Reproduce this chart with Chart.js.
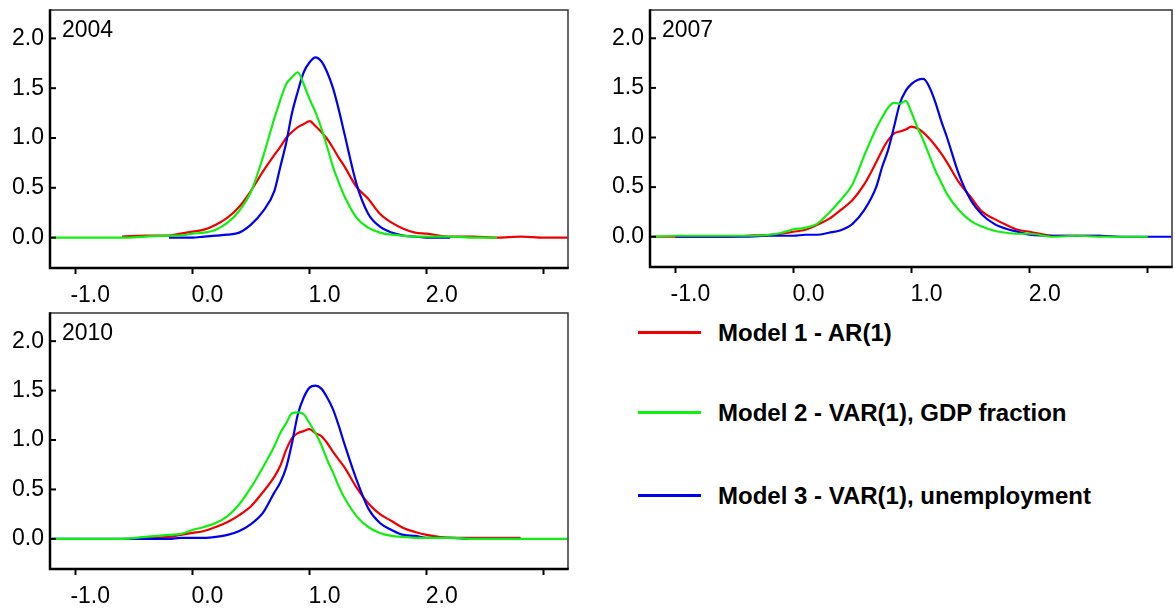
<!DOCTYPE html>
<html>
<head>
<meta charset="utf-8">
<script src="https://cdn.jsdelivr.net/npm/chart.js@4.4.1/dist/chart.umd.min.js"></script>
<style>
  body { margin: 0; background: #fff; width: 1175px; height: 615px; overflow: hidden; position: relative; }
  .panel { position: absolute; }
  .leg-line { position: absolute; left: 638px; width: 63px; height: 3px; }
  .leg-text { position: absolute; left: 718px; font: bold 24px 'Liberation Sans', Arial, sans-serif; color: #000; line-height: 28px; white-space: nowrap; }
</style>
</head>
<body>
<div class="panel" style="left:0;top:0;width:575px;height:302px"><canvas id="c2004"></canvas></div>
<div class="panel" style="left:600px;top:0;width:575px;height:302px"><canvas id="c2007"></canvas></div>
<div class="panel" style="left:0;top:303px;width:575px;height:312px"><canvas id="c2010"></canvas></div>

<div class="leg-line" style="top:331px;background:#f00000"></div>
<div class="leg-text" style="top:319px">Model 1 - AR(1)</div>
<div class="leg-line" style="top:411px;background:#10f010"></div>
<div class="leg-text" style="top:399px">Model 2 - VAR(1), GDP fraction</div>
<div class="leg-line" style="top:494px;background:#0000f0"></div>
<div class="leg-text" style="top:482px">Model 3 - VAR(1), unemployment</div>

<script>
const xGrid = [-1.2, -1.0, -0.8, -0.6, -0.4, -0.2, -0.1, 0.0, 0.1, 0.2, 0.3, 0.4, 0.5, 0.6, 0.7, 0.75,
  0.8, 0.85, 0.9, 0.95, 1.0, 1.05, 1.1, 1.15, 1.2, 1.25, 1.3, 1.4, 1.5, 1.6, 1.7, 1.8, 1.9, 2.0,
  2.2, 2.4, 2.6, 2.8, 3.0, 3.2];

const xTicks = [-1, 0, 1, 2, 3];
const yTicks = [0, 0.5, 1, 1.5, 2];

// 2004
const red2004 = [null, null, null, 0.01, 0.02, 0.02, 0.04, 0.06, 0.08, 0.13, 0.2, 0.31, 0.47, 0.66, 0.83, 0.91,
  1.0, 1.06, 1.11, 1.14, 1.17, 1.12, 1.06, 0.99, 0.9, 0.8, 0.71, 0.51, 0.39, 0.24, 0.15, 0.09, 0.05, 0.04,
  0.01, 0.01, 0.0, 0.01, 0.0, 0.0];
const green2004 = [0, 0, 0, 0, 0.01, 0.02, 0.02, 0.04, 0.05, 0.08, 0.15, 0.27, 0.46, 0.8, 1.2, 1.38,
  1.54, 1.61, 1.66, 1.54, 1.39, 1.26, 1.1, 0.91, 0.71, 0.55, 0.41, 0.2, 0.1, 0.05, 0.03, 0.02, 0.01, 0.01,
  0.01, 0.0, 0.0, null, null, null];
const blue2004 = [null, null, null, null, null, 0.0, 0.0, 0.0, 0.01, 0.02, 0.03, 0.05, 0.13, 0.26, 0.47, 0.71,
  0.95, 1.25, 1.47, 1.66, 1.76, 1.81, 1.77, 1.66, 1.5, 1.28, 1.03, 0.54, 0.24, 0.11, 0.05, 0.02, 0.01, 0.0,
  0.0, null, null, null, null, null];

// 2007
const red2007 = [0, 0, 0, 0, 0.01, 0.02, 0.03, 0.05, 0.07, 0.12, 0.18, 0.27, 0.37, 0.53, 0.75, 0.87,
  0.97, 1.04, 1.06, 1.08, 1.11, 1.09, 1.05, 0.99, 0.92, 0.84, 0.75, 0.55, 0.40, 0.25, 0.18, 0.12, 0.07, 0.05,
  0.01, 0.01, 0.01, null, null, null];
const green2007 = [0.0, 0.01, 0.01, 0.01, 0.01, 0.02, 0.04, 0.075, 0.09, 0.13, 0.24, 0.37, 0.53, 0.82, 1.09, 1.2,
  1.3, 1.35, 1.34, 1.37, 1.25, 1.10, 0.97, 0.82, 0.67, 0.55, 0.43, 0.27, 0.16, 0.1, 0.06, 0.04, 0.03, 0.03,
  0.0, 0.01, 0.0, 0.0, 0.0, null];
const blue2007 = [null, 0.0, 0.0, 0.0, 0.0, 0.01, 0.01, 0.01, 0.02, 0.02, 0.04, 0.065, 0.13, 0.27, 0.5, 0.7,
  0.87, 1.1, 1.34, 1.47, 1.54, 1.58, 1.59, 1.51, 1.36, 1.17, 1.0, 0.63, 0.37, 0.22, 0.13, 0.08, 0.05, 0.02,
  0.01, 0.01, 0.01, 0.0, 0.0, 0.0];

// 2010
const red2010 = [null, null, null, null, 0.01, 0.02, 0.04, 0.06, 0.08, 0.12, 0.17, 0.24, 0.33, 0.47, 0.63, 0.74,
  0.90, 1.02, 1.07, 1.09, 1.11, 1.07, 1.04, 0.97, 0.88, 0.80, 0.72, 0.52, 0.36, 0.25, 0.18, 0.11, 0.07, 0.04,
  0.01, 0.01, 0.01, 0.01, null, null];
const green2010 = [0, 0, 0, 0, 0.02, 0.04, 0.05, 0.09, 0.12, 0.16, 0.23, 0.35, 0.52, 0.72, 0.94, 1.07,
  1.17, 1.27, 1.28, 1.26, 1.17, 1.07, 0.95, 0.80, 0.67, 0.53, 0.41, 0.23, 0.12, 0.06, 0.03, 0.02, 0.01, 0.01,
  0.01, 0.0, 0.0, 0.0, 0.0, 0.0];
const blue2010 = [0, 0, 0, 0, 0, 0, 0.01, 0.01, 0.01, 0.02, 0.04, 0.08, 0.15, 0.26, 0.47, 0.57,
  0.72, 0.97, 1.26, 1.43, 1.53, 1.55, 1.52, 1.43, 1.31, 1.14, 0.95, 0.60, 0.31, 0.16, 0.09, 0.04, 0.03, 0.01,
  0.01, 0.0, 0.0, 0.0, null, null];

const RED = '#f00000', GREEN = '#10f010', BLUE = '#0000f0';
const FONT = "'Liberation Sans', Arial, sans-serif";

// box edges, inner y ticks and the year label
const boxPlugin = {
  id: 'box',
  afterDraw(chart, args, opts) {
    const { ctx, chartArea: a, scales } = chart;
    ctx.save();
    ctx.lineCap = 'butt';
    ctx.strokeStyle = '#333';
    ctx.lineWidth = 1.5;
    ctx.beginPath();
    ctx.moveTo(a.left, a.top); ctx.lineTo(a.right, a.top); ctx.lineTo(a.right, a.bottom);
    ctx.stroke();
    ctx.strokeStyle = '#000';
    ctx.lineWidth = 2.5;
    ctx.beginPath();
    ctx.moveTo(a.left, a.top - 0.75); ctx.lineTo(a.left, a.bottom); ctx.lineTo(a.right + 0.75, a.bottom);
    ctx.stroke();
    ctx.lineWidth = 2;
    yTicks.forEach(v => {
      const y = scales.y.getPixelForValue(v);
      ctx.beginPath(); ctx.moveTo(a.left, y); ctx.lineTo(a.left + 6, y); ctx.stroke();
    });
    ctx.fillStyle = '#000';
    ctx.font = '23px ' + FONT;
    ctx.textBaseline = 'alphabetic';
    ctx.fillText(opts.title, a.left + 12, a.top + 27);
    ctx.restore();
  }
};

function makePanel(id, title, red, green, blue, xAxisH, padRight) {
  const pts = vals => xGrid.map((x, i) => ({ x, y: vals[i] }));
  const ds = (label, vals, color, order) => ({
    label, data: pts(vals), borderColor: color, borderWidth: 2.2,
    pointRadius: 0, cubicInterpolationMode: 'monotone', spanGaps: false, order
  });
  new Chart(document.getElementById(id), {
    type: 'line',
    data: {
      datasets: [
        ds('Model 1 - AR(1)', red, RED, 3),
        ds('Model 2 - VAR(1), GDP fraction', green, GREEN, 1),
        ds('Model 3 - VAR(1), unemployment', blue, BLUE, 2)
      ]
    },
    options: {
      responsive: true,
      maintainAspectRatio: false,
      animation: false,
      layout: { padding: { top: 10, right: padRight, left: 0, bottom: 0 } },
      plugins: { legend: { display: false }, tooltip: { enabled: false }, box: { title } },
      scales: {
        x: {
          type: 'linear', min: -1.215, max: 3.205,
          afterFit: s => { s.height = xAxisH; s.paddingLeft = 0; s.paddingRight = 0; },
          afterBuildTicks: s => { s.ticks = xTicks.map(v => ({ value: v })); },
          border: { display: false },
          grid: { drawOnChartArea: false, drawTicks: true, tickLength: 6, tickWidth: 2, color: '#000' },
          ticks: {
            color: '#000', padding: 8, labelOffset: 15, maxRotation: 0, autoSkip: false,
            font: { family: FONT, size: 23 },
            callback: v => v === 3 ? '' : v.toFixed(1)
          }
        },
        y: {
          type: 'linear', min: -0.305, max: 2.285,
          afterFit: s => { s.width = 50; s.paddingTop = 0; s.paddingBottom = 0; },
          afterBuildTicks: s => { s.ticks = yTicks.map(v => ({ value: v })); },
          border: { display: false },
          grid: { display: false, drawTicks: false },
          ticks: {
            color: '#000', padding: 6, autoSkip: false,
            font: { family: FONT, size: 23 },
            callback: v => v.toFixed(1)
          }
        }
      }
    },
    plugins: [boxPlugin]
  });
}

makePanel('c2004', '2004', red2004, green2004, blue2004, 34, 7);
makePanel('c2007', '2007', red2007, green2007, blue2007, 35, 3);
makePanel('c2010', '2010', red2010, green2010, blue2010, 46, 7);
</script>
</body>
</html>
